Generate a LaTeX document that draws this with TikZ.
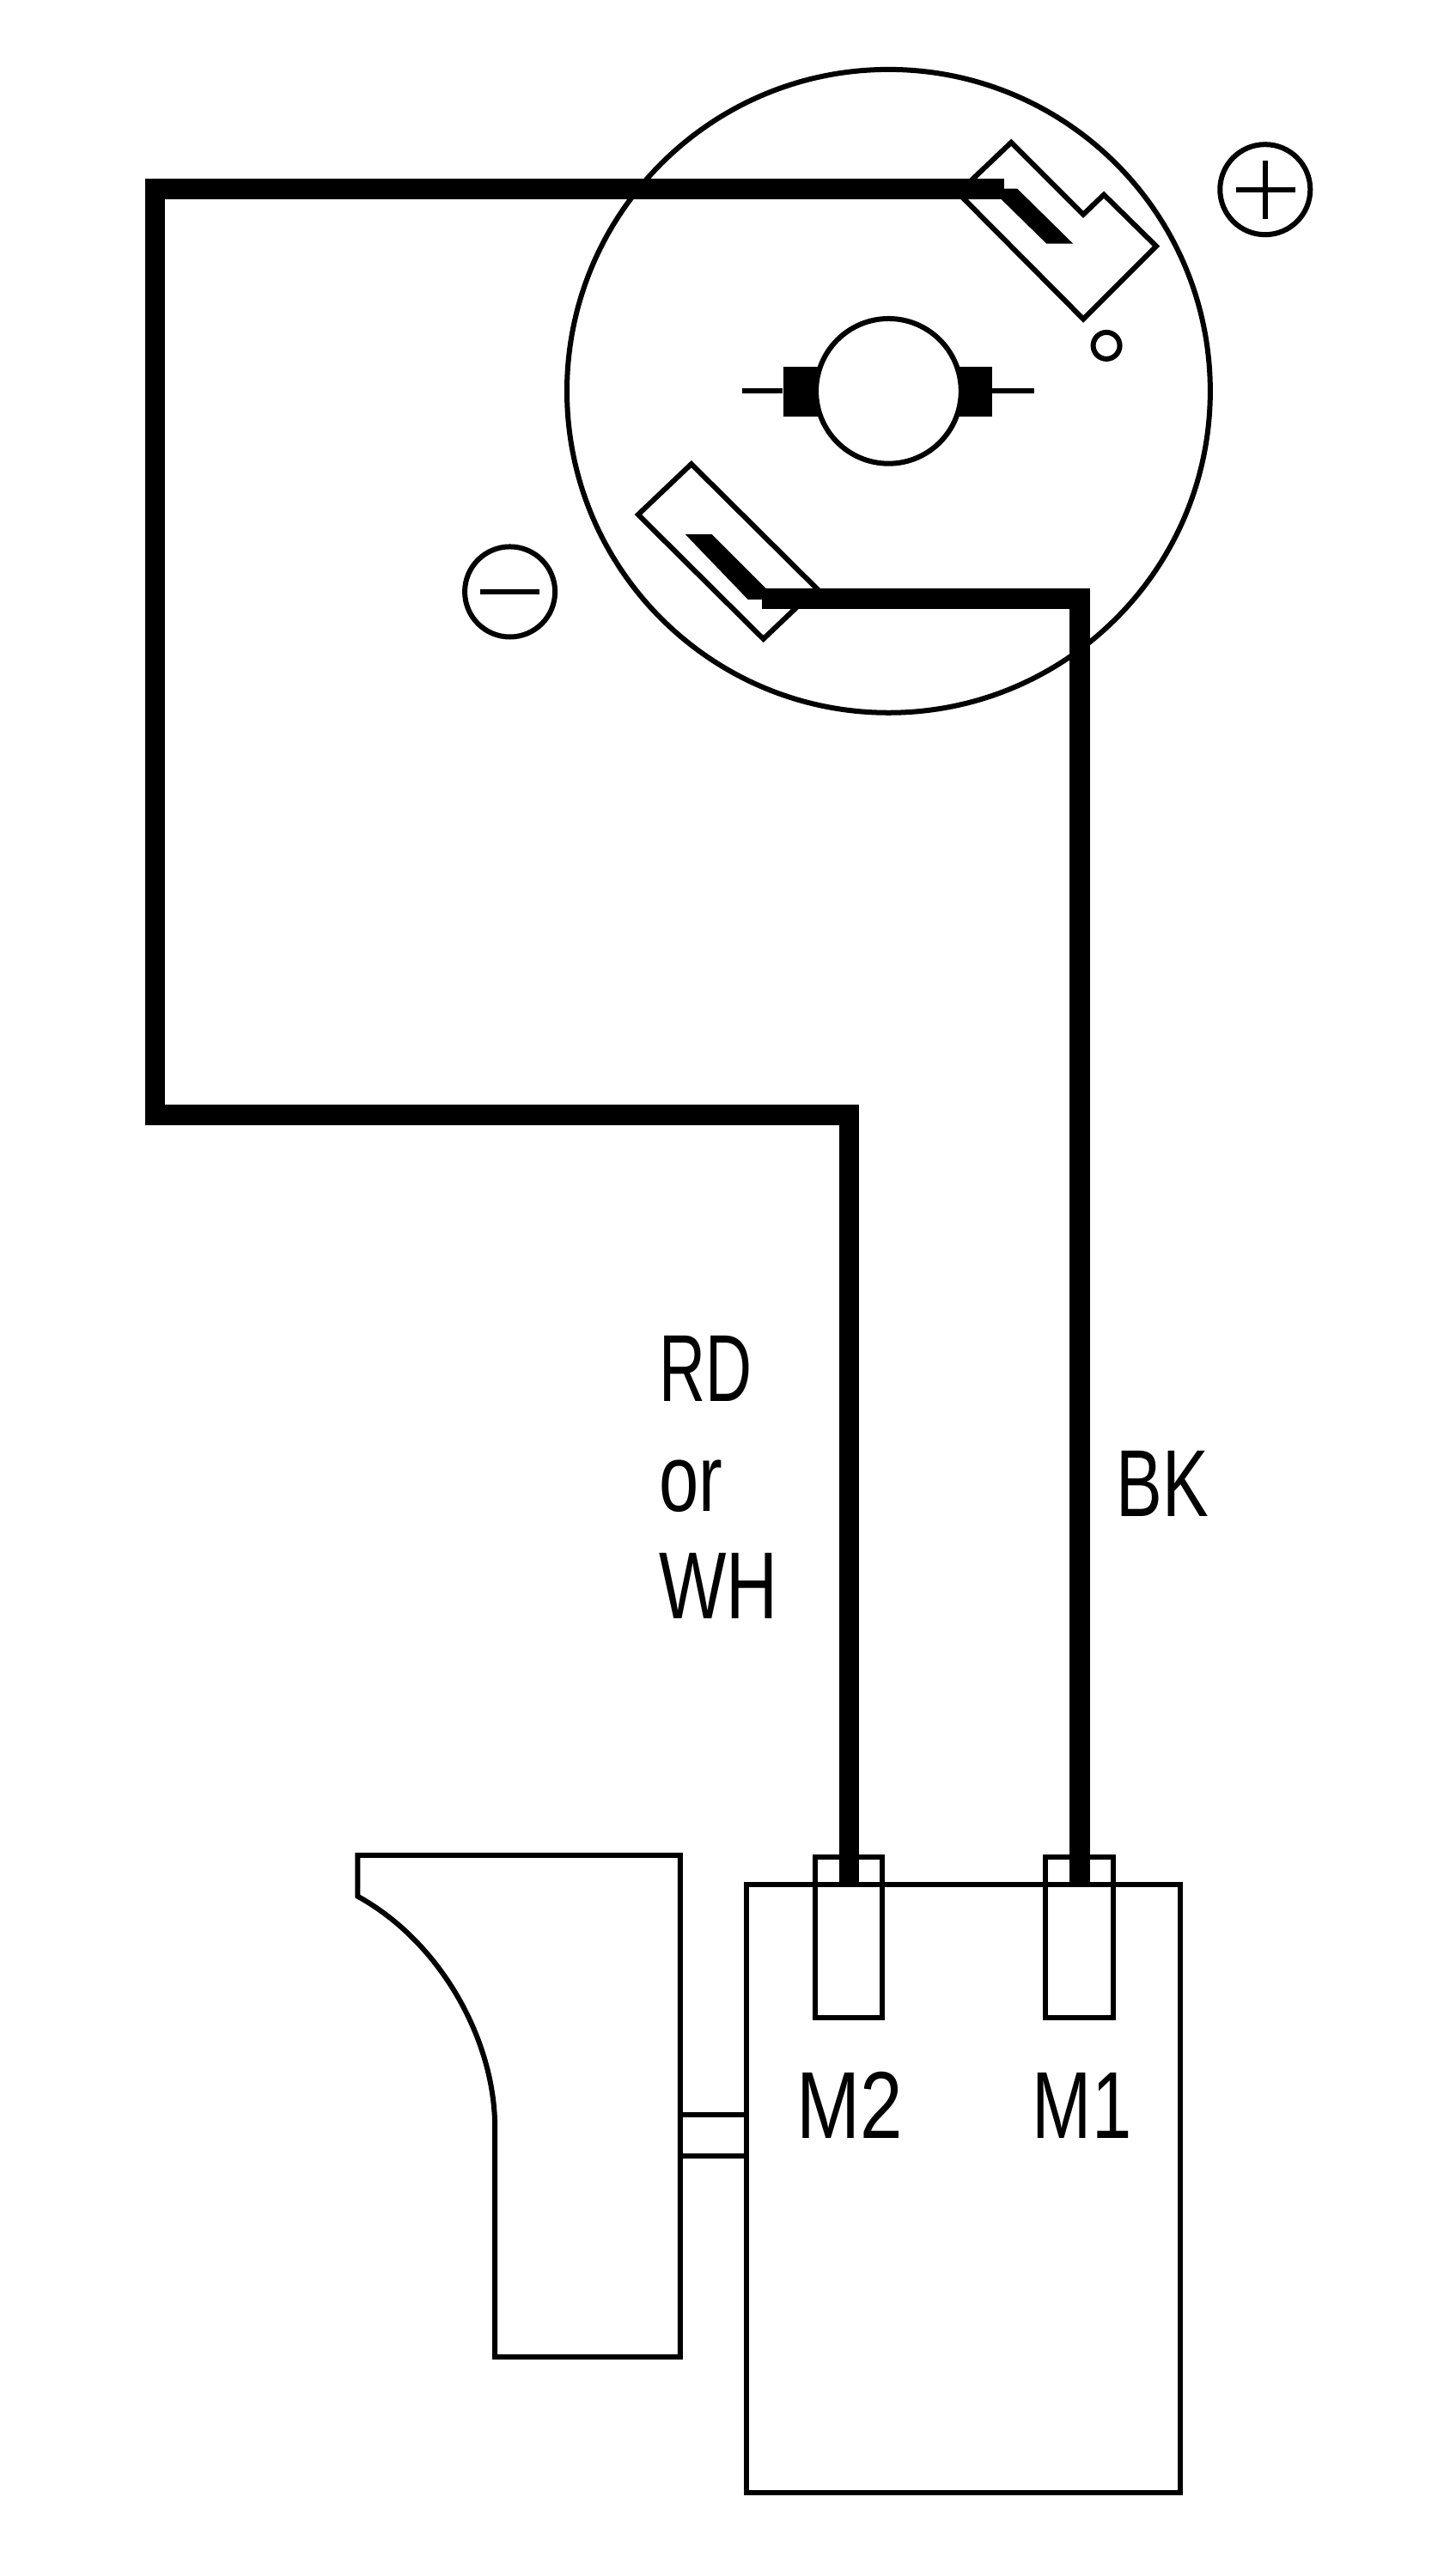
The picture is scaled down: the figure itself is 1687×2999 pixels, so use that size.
\documentclass[tikz,border=0pt]{standalone}
\usepackage{fontspec}
\setmainfont[FakeStretch=0.75]{Liberation Sans}
\tikzset{
  thin line/.style={draw=black,line width=0.06cm,line join=miter},
  fine/.style={draw=black,line width=0.06cm,line join=miter,fill=white},
  wire/.style={draw=black,line width=0.235cm,line join=miter,line cap=butt},
  solid part/.style={fill=black,draw=none},
  lbl/.style={inner sep=0pt,anchor=base west,font=\fontsize{31.5}{31.5}\selectfont,text=black}
}
\begin{document}
\begin{tikzpicture}[x=0.01cm,y=-0.01cm]
\path[use as bounding box,fill=white] (0,0) rectangle (1687,2999);
\begin{scope}[x=0.009972cm,y=-0.009986cm]
% wire anchor points
\coordinate (wa1) at (1171,220.5);
\coordinate (wa2) at (181,220.5);
\coordinate (wa3) at (181,1300);
\coordinate (wa4) at (990,1300);
\coordinate (wa5) at (990,2195);
\coordinate (wb1) at (888,698);
\coordinate (wb2) at (1259,698);
\coordinate (wb3) at (1259,2195);
% motor disc
\draw[thin line] (1036,456) circle (375);
% top terminal
\draw[fine] (1117,225) -- (1179,166) -- (1263,250) -- (1287,227) -- (1348,287) -- (1263,372) -- cycle;
\fill[solid part] (1167,226) -- (1170,220) -- (1186,220) -- (1251,284) -- (1220,284) -- (1166,231) -- cycle;
% bottom terminal
\draw[fine] (806,541) -- (744,600) -- (890,745) -- (952,686) -- cycle;
\fill[solid part] (799,623) -- (830,623) -- (894,687) -- (888,699) -- (872,699) -- cycle;
% brushes and armature
\draw[thin line] (865,456) -- (912,456);
\draw[thin line] (1157,456) -- (1206,456);
\fill[solid part] (913,428) rectangle (1157,486);
\draw[fine] (1036,456) circle (84.5);
% small hole
\draw[thin line] (1290,403) circle (15.5);
% plus and minus
\node[circle,draw=black,line width=0.06cm,minimum size=1.05cm,inner sep=0pt] (plus) at (1475,221) {};
\draw[thin line] (1441,221) -- (1510,221);
\draw[thin line] (1475,187) -- (1475,255);
\node[circle,draw=black,line width=0.06cm,minimum size=1.05cm,inner sep=0pt] (minus) at (594.5,690) {};
\draw[thin line] (560,690) -- (629,690);
% wires
\draw[wire] (wa1) -- (wa2) -- (wa3) -- (wa4) -- (wa5);
\draw[wire] (wb1) -- (wb2) -- (wb3);
% switch
\draw[thin line] (870,2197) rectangle (1376,2906);
\draw[thin line] (950,2165) rectangle (1029,2353);
\draw[thin line] (1219,2165) rectangle (1298,2353);
% trigger
\draw[thin line] (417,2211) -- (417,2163) -- (793,2163) -- (793,2748) -- (577,2748) -- (577,2480)
   .. controls (577,2380) and (515,2265) .. (417,2211) -- cycle;
\draw[thin line] (793,2466) -- (870,2466);
\draw[thin line] (793,2514) -- (870,2514);
% labels
\node[lbl] (rd) at (768,1634) {\scalebox{0.9}[1]{RD}};
\node[lbl] (or) at (768,1762) {or};
\node[lbl] (wh) at (768,1887) {WH};
\node[lbl] (bk) at (1301,1768) {\scalebox{0.97}[1]{BK}};
\node[lbl] (m2) at (928,2493) {\scalebox{1.07}[1]{M2}};
\node[lbl] (m1) at (1203,2493) {M1};
\end{scope}
\end{tikzpicture}
\end{document}
